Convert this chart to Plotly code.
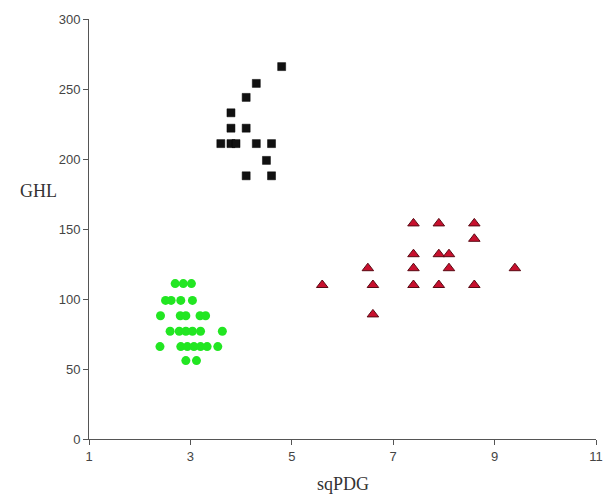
import plotly.graph_objects as go

# Black squares
sq_x = [4.8, 4.3, 4.1, 3.8, 3.8, 4.1, 3.6, 3.8, 3.9, 4.3, 4.6, 4.5, 4.1, 4.6]
sq_y = [266, 254, 244, 233, 222, 222, 211, 211, 211, 211, 211, 199, 188, 188]

# Red triangles
tri_x = [7.4, 7.9, 8.6, 8.6, 7.4, 7.9, 8.1, 6.5, 7.4, 8.1, 9.4, 5.6, 6.6, 7.4, 7.9, 8.6, 6.6]
tri_y = [154, 154, 154, 143, 132, 132, 132, 122, 122, 122, 122, 110, 110, 110, 110, 110, 89]

# Green circles
gr_x = [2.7, 2.86, 3.02,
        2.51, 2.62, 2.81, 3.04,
        2.41, 2.8, 2.91, 3.19, 3.3,
        2.6, 2.78, 2.91, 3.04, 3.2, 3.63,
        2.4, 2.81, 2.94, 3.07, 3.2, 3.33, 3.54,
        2.91, 3.12]
gr_y = [111, 111, 111,
        99, 99, 99, 99,
        88, 88, 88, 88, 88,
        77, 77, 77, 77, 77, 77,
        66, 66, 66, 66, 66, 66, 66,
        56, 56]

x_ticks = [1, 3, 5, 7, 9, 11]
y_ticks = [0, 50, 100, 150, 200, 250, 300]

fig = go.Figure()
fig.add_trace(go.Scatter(x=sq_x, y=sq_y, mode="markers",
                         marker=dict(symbol="square", size=8, color="#111111",
                                     line=dict(color="#000000", width=0.5))))
fig.add_trace(go.Scatter(x=tri_x, y=tri_y, mode="markers",
                         marker=dict(symbol="triangle-up", size=10, color="#c8102e",
                                     line=dict(color="#5a0a14", width=1))))
fig.add_trace(go.Scatter(x=gr_x, y=gr_y, mode="markers",
                         marker=dict(symbol="circle", size=9, color="#22e622",
                                     line=dict(width=0))))

axis_common = dict(showline=True, linecolor="#555555", linewidth=1, ticks="outside",
                   ticklen=5, tickcolor="#555555", showgrid=False, zeroline=False,
                   tickfont=dict(family="Liberation Sans, Arial, sans-serif", size=13,
                                 color="#444444"))

fig.update_layout(
    width=615, height=497,
    margin=dict(l=89, r=15, t=17, b=58),
    plot_bgcolor="white", paper_bgcolor="white",
    showlegend=False,
    xaxis=dict(range=[1, 11], tickvals=x_ticks, **axis_common),
    yaxis=dict(range=[0, 300], tickvals=y_ticks, **axis_common),
    annotations=[
        dict(text="GHL", xref="paper", yref="paper", x=(38 - 89) / 511.0,
             y=1 - (190 - 17) / 422.0,
             xanchor="center", yanchor="middle", showarrow=False,
             font=dict(family="Liberation Serif, Times New Roman, serif", size=18,
                       color="#333333")),
        dict(text="sqPDG", xref="paper", yref="paper", x=(345 - 89) / 511.0,
             y=-(484 - 439) / 422.0, xanchor="center", yanchor="middle", showarrow=False,
             font=dict(family="Liberation Serif, Times New Roman, serif", size=18,
                       color="#333333")),
    ],
)

fig.write_html("out.html", config={"displayModeBar": False},
               post_script="document.body.style.margin='0';document.body.style.overflow='hidden';")
